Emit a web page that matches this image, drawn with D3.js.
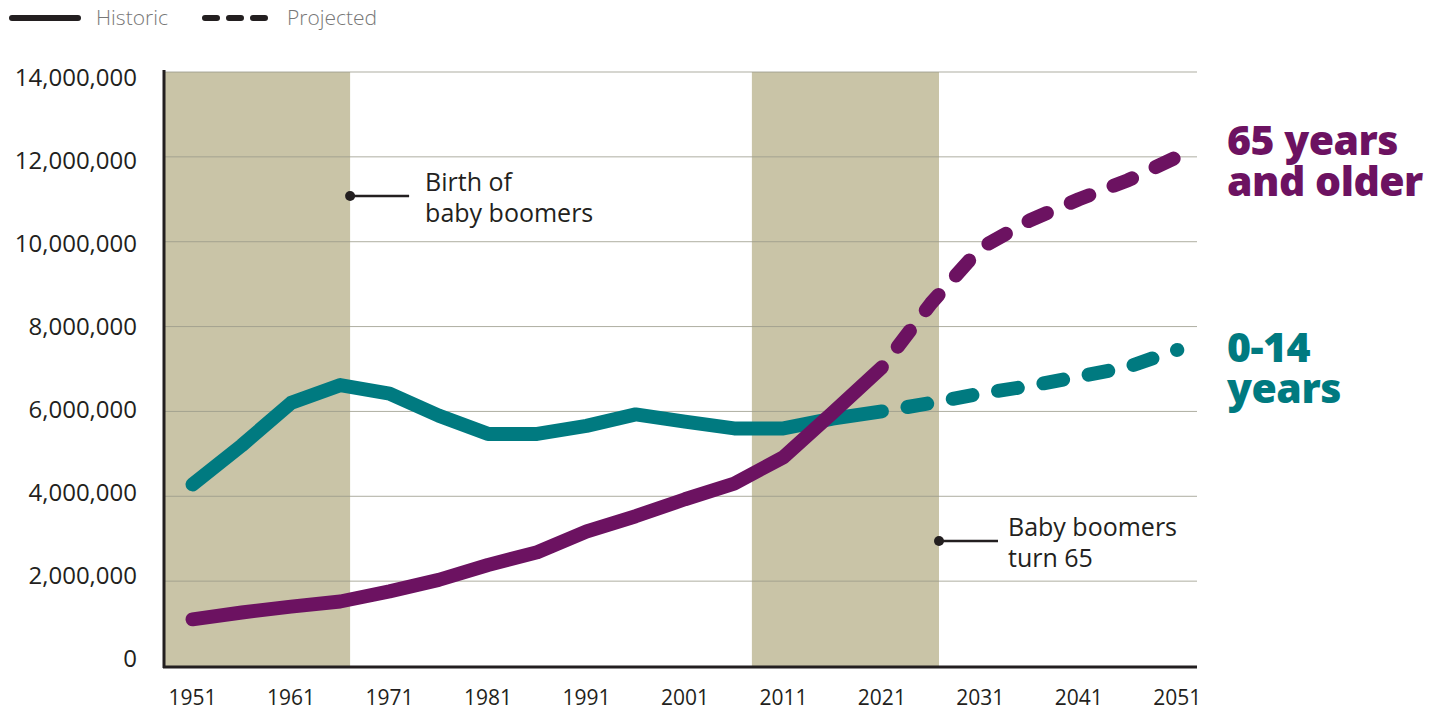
<!DOCTYPE html>
<html>
<head>
<meta charset="utf-8">
<style>
  body { margin: 0; background: #fff; }
  svg { display: block; font-family: "Open Sans", Lato, sans-serif; }
</style>
</head>
<body>
<svg width="1442" height="713"></svg>
<script src="https://cdn.jsdelivr.net/npm/d3@7"></script>
<script>

// data
var years = [1951, 1956, 1961, 1966, 1971, 1976, 1981, 1986, 1991, 1996, 2001, 2006, 2011, 2016, 2021];
var youngHistoric = [4.28, 5.2, 6.2, 6.62, 6.42, 5.9, 5.47, 5.47, 5.66, 5.93, 5.76, 5.6, 5.6, 5.83, 6.0];
var oldHistoric = [1.1, 1.26, 1.4, 1.52, 1.76, 2.03, 2.38, 2.68, 3.17, 3.53, 3.93, 4.3, 4.92, 5.97, 7.04];

var projYears = [2021, 2026, 2031, 2036, 2041, 2046, 2051];
var youngProjected = [6.0, 6.2, 6.42, 6.6, 6.82, 7.05, 7.45];
var oldProjected = [7.04, 8.55, 9.85, 10.5, 11.0, 11.45, 12.0];

var tickYears = [1951, 1961, 1971, 1981, 1991, 2001, 2011, 2021, 2031, 2041, 2051];
var yTicks = [0, 2e6, 4e6, 6e6, 8e6, 10e6, 12e6, 14e6];

var shaded = [[1948, 1967], [2007.8, 2026.8]];

var svg = d3.select("svg");
var teal = "#007a80", purple = "#6c1261", dark = "#231f20";

var x = d3.scaleLinear().domain([1948, 2053]).range([163, 1197]);
var y = d3.scaleLinear().domain([0, 14e6]).range([666, 72]);
// tick labels sit on a slightly tighter ladder than the gridlines
var yLabel = d3.scaleLinear().domain([0, 14e6]).range([667, 86]);

// shaded periods
svg.append("g").selectAll("rect")
  .data(shaded)
  .enter().append("rect")
  .attr("x", function(d) { return x(d[0]); })
  .attr("width", function(d) { return x(d[1]) - x(d[0]); })
  .attr("y", y(14e6))
  .attr("height", y(0) - y(14e6))
  .attr("fill", "#c9c4a7");

// gridlines
svg.append("g").selectAll("line")
  .data(yTicks.slice(1))
  .enter().append("line")
  .attr("x1", 163).attr("x2", 1197)
  .attr("y1", function(d) { return y(d); })
  .attr("y2", function(d) { return y(d); })
  .attr("stroke", "#9a9a8a")
  .attr("stroke-opacity", 0.8)
  .attr("stroke-width", 1);

// y tick labels
svg.append("g").selectAll("text")
  .data(yTicks)
  .enter().append("text")
  .attr("x", 137)
  .attr("y", function(d) { return yLabel(d); })
  .attr("text-anchor", "end")
  .attr("font-size", 24)
  .attr("fill", dark)
  .text(function(d) { return d3.format(",")(d); });

// x tick labels
svg.append("g").selectAll("text")
  .data(tickYears)
  .enter().append("text")
  .attr("x", function(d) { return x(d); })
  .attr("y", 705)
  .attr("text-anchor", "middle")
  .attr("font-size", 21)
  .attr("fill", dark)
  .text(function(d) { return d; });

// axes lines
svg.append("line").attr("x1", 164).attr("x2", 164).attr("y1", 70).attr("y2", 668)
  .attr("stroke", dark).attr("stroke-width", 3);
svg.append("line").attr("x1", 163).attr("x2", 1197).attr("y1", 667).attr("y2", 667)
  .attr("stroke", dark).attr("stroke-width", 3);

var line = d3.line()
  .x(function(d) { return x(d[0]); })
  .y(function(d) { return y(d[1] * 1e6); });

function series(xs, vs, color, dashed) {
  svg.append("path")
    .datum(d3.zip(xs, vs))
    .attr("d", line)
    .attr("fill", "none")
    .attr("stroke", color)
    .attr("stroke-width", 14)
    .attr("stroke-linecap", "round")
    .attr("stroke-linejoin", "round")
    .attr("stroke-dasharray", dashed ? "20 26" : null)
    .attr("stroke-dashoffset", dashed ? -26 : null);
}
series(years, youngHistoric, teal, false);
series(projYears, youngProjected, teal, true);
series(years, oldHistoric, purple, false);
series(projYears, oldProjected, purple, true);

// annotations
function note(xv, yy, gap, lines) {
  var g = svg.append("g");
  g.append("circle").attr("cx", x(xv)).attr("cy", yy).attr("r", 5).attr("fill", dark);
  g.append("line").attr("x1", x(xv)).attr("x2", x(xv) + 59).attr("y1", yy).attr("y2", yy)
    .attr("stroke", dark).attr("stroke-width", 2.5);
  g.selectAll("text").data(lines).enter().append("text")
    .attr("x", x(xv) + 59 + gap)
    .attr("y", function(d, i) { return yy - 5 + i * 31; })
    .attr("font-size", 25)
    .attr("fill", dark)
    .text(function(d) { return d; });
}
note(shaded[0][1], 196, 16, ["Birth of", "baby boomers"]);
note(shaded[1][1], 541, 10, ["Baby boomers", "turn 65"]);

// series labels
function label(yy, lines, color) {
  svg.append("g").selectAll("text").data(lines).enter().append("text")
    .attr("x", 1227)
    .attr("y", function(d, i) { return yy + i * 41; })
    .attr("font-size", 41)
    .attr("font-weight", 800)
    .attr("letter-spacing", -0.5)
    .attr("fill", color)
    .text(function(d) { return d; });
}
label(155, ["65 years", "and older"], purple);
label(362, ["0-14", "years"], teal);

// legend
var leg = svg.append("g");
leg.append("line").attr("x1", 12).attr("x2", 78).attr("y1", 18).attr("y2", 18)
  .attr("stroke", dark).attr("stroke-width", 6).attr("stroke-linecap", "round");
leg.append("text").attr("x", 96).attr("y", 25).attr("font-size", 21).attr("font-weight", 300)
  .attr("fill", "#777").text("Historic");
leg.append("line").attr("x1", 205).attr("x2", 270).attr("y1", 18).attr("y2", 18)
  .attr("stroke", dark).attr("stroke-width", 6).attr("stroke-linecap", "round")
  .attr("stroke-dasharray", "12 12");
leg.append("text").attr("x", 287).attr("y", 25).attr("font-size", 21).attr("font-weight", 300)
  .attr("fill", "#777").text("Projected");

</script>
</body>
</html>
